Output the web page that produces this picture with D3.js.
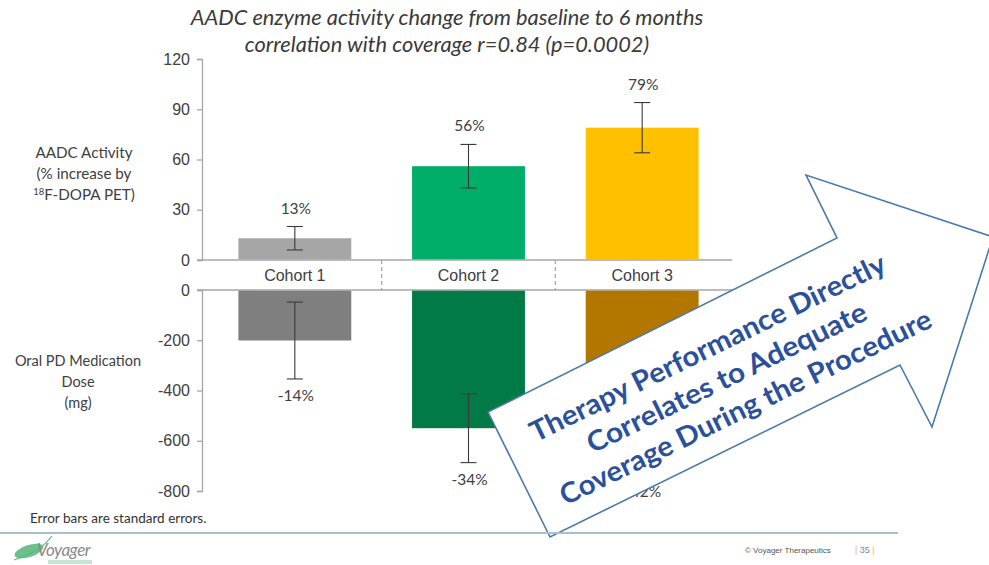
<!DOCTYPE html>
<html><head><meta charset="utf-8">
<script src="https://cdn.jsdelivr.net/npm/d3@7"></script>
<style>
html,body{margin:0;padding:0;background:#fff;}
svg{display:block;}
</style></head>
<body>
<svg id="chart" width="989" height="565"></svg>
<script>
// ---- data ----
const cohorts = ["Cohort 1", "Cohort 2", "Cohort 3"];
const aadcMean = [13, 56, 79];
const aadcSE = [7, 13, 15];
const aadcLabels = ["13%", "56%", "79%"];
const doseMean = [-201, -550, -600];
const doseSE = [153, 137, 136];
const doseLabels = ["-14%", "-34%", "-42%"];
const topTicks = [0, 30, 60, 90, 120];
const bottomTicks = [-800, -600, -400, -200, 0];
const topColors = ["#a6a6a6", "#00ad69", "#ffc000"];
const bottomColors = ["#7f7f7f", "#017a45", "#b37700"];
const titleLines = ["AADC enzyme activity change from baseline to 6 months",
                    "correlation with coverage r=0.84 (p=0.0002)"];
const arrowLines = ["Therapy Performance Directly", "Correlates to Adequate",
                    "Coverage During the Procedure"];

const svg = d3.select("#chart");
const axisX = 202;
const x = d3.scaleBand().domain(cohorts).range([208, 729]).paddingInner(0.35).paddingOuter(0.175);
const yTop = d3.scaleLinear().domain([0, 120]).range([260, 59]);
const yBot = d3.scaleLinear().domain([-800, 0]).range([491, 290]);
const txt = "#404040";

// title
svg.append("g").selectAll("text").data(titleLines).join("text")
  .attr("x", 447).attr("y", (d, i) => 25 + i * 27)
  .attr("text-anchor", "middle")
  .attr("font-family", "Lato, 'Open Sans', sans-serif")
  .attr("font-style", "italic").attr("font-size", 21.8).attr("fill", "#3a3a3a")
  .text(d => d);

// left labels
const la = svg.append("text").attr("font-family", "Lato, sans-serif").attr("font-size", 15.2)
  .attr("fill", txt).attr("text-anchor", "middle");
la.append("tspan").attr("x", 84).attr("y", 158).text("AADC Activity");
la.append("tspan").attr("x", 84).attr("y", 179).text("(% increase by");
const l3 = la.append("tspan").attr("x", 84).attr("y", 200);
l3.append("tspan").attr("font-size", 9.5).attr("dy", -5).text("18");
l3.append("tspan").attr("dy", 5).text("F-DOPA PET)");

const lb = svg.append("text").attr("font-family", "Lato, sans-serif").attr("font-size", 14.5)
  .attr("fill", txt).attr("text-anchor", "middle");
lb.append("tspan").attr("x", 78).attr("y", 366).text("Oral PD Medication");
lb.append("tspan").attr("x", 78).attr("y", 387).text("Dose");
lb.append("tspan").attr("x", 78).attr("y", 408).text("(mg)");

// axes
function styleAxis(g) {
  g.select(".domain").attr("stroke", "#a6a6a6").attr("stroke-width", 1.3);
  g.selectAll(".tick line").attr("stroke", "#a6a6a6").attr("stroke-width", 1.3);
  g.selectAll(".tick text").attr("fill", txt).attr("font-size", 16)
    .attr("font-family", "'Liberation Sans', Arial, sans-serif");
}
svg.append("g").attr("transform", `translate(${axisX},0)`)
  .call(d3.axisLeft(yTop).tickValues(topTicks).tickFormat(d => String(d))
    .tickSize(5).tickSizeOuter(5).tickPadding(7))
  .call(styleAxis);
svg.append("g").attr("transform", `translate(${axisX},0)`)
  .call(d3.axisLeft(yBot).tickValues(bottomTicks).tickFormat(d => String(d))
    .tickSize(5).tickSizeOuter(5).tickPadding(7))
  .call(styleAxis);

// category band
const bandRight = 732;
[yTop(0), yBot(0)].forEach(yy => {
  svg.append("line").attr("x1", axisX - 5).attr("x2", bandRight).attr("y1", yy).attr("y2", yy)
    .attr("stroke", "#a6a6a6").attr("stroke-width", 1.3);
});
const step = x.step();
const bandStart = x.range()[0];
svg.append("g").selectAll("line").data(cohorts.slice(1)).join("line")
  .attr("x1", (d, i) => bandStart + (i + 1) * step)
  .attr("x2", (d, i) => bandStart + (i + 1) * step)
  .attr("y1", yTop(0)).attr("y2", yBot(0))
  .attr("stroke", "#a6a6a6").attr("stroke-width", 1.2).attr("stroke-dasharray", "4,3");
svg.append("g").selectAll("text").data(cohorts).join("text")
  .attr("x", d => x(d) + x.bandwidth() / 2).attr("y", 281)
  .attr("text-anchor", "middle").attr("font-size", 16)
  .attr("font-family", "'Liberation Sans', Arial, sans-serif").attr("fill", txt)
  .text(d => d);

// top bars
svg.append("g").selectAll("rect").data(cohorts).join("rect")
  .attr("x", d => x(d)).attr("width", x.bandwidth())
  .attr("y", (d, i) => yTop(aadcMean[i])).attr("height", (d, i) => yTop(0) - yTop(aadcMean[i]) - 0.7)
  .attr("fill", (d, i) => topColors[i]);
// bottom bars
svg.append("g").selectAll("rect").data(cohorts).join("rect")
  .attr("x", d => x(d)).attr("width", x.bandwidth())
  .attr("y", yBot(0) + 0.7).attr("height", (d, i) => yBot(doseMean[i]) - yBot(0) - 0.7)
  .attr("fill", (d, i) => bottomColors[i]);

// error bars
function errBars(means, ses, y) {
  const g = svg.append("g").attr("stroke", "#3a3a3a").attr("stroke-width", 1.1);
  cohorts.forEach((c, i) => {
    const cx = x(c) + x.bandwidth() / 2;
    const y1 = y(means[i] + ses[i]), y2 = y(means[i] - ses[i]);
    g.append("line").attr("x1", cx).attr("x2", cx).attr("y1", y1).attr("y2", y2);
    g.append("line").attr("x1", cx - 8).attr("x2", cx + 8).attr("y1", y1).attr("y2", y1);
    g.append("line").attr("x1", cx - 8).attr("x2", cx + 8).attr("y1", y2).attr("y2", y2);
  });
}
errBars(aadcMean, aadcSE, yTop);
errBars(doseMean, doseSE, yBot);

// value labels
svg.append("g").selectAll("text").data(cohorts).join("text")
  .attr("x", d => x(d) + x.bandwidth() / 2 + 1)
  .attr("y", (d, i) => yTop(aadcMean[i] + aadcSE[i]) - 13)
  .attr("text-anchor", "middle").attr("font-family", "Lato, sans-serif").attr("font-size", 15.5)
  .attr("fill", txt).text((d, i) => aadcLabels[i]);
svg.append("g").selectAll("text").data(cohorts).join("text")
  .attr("x", d => x(d) + x.bandwidth() / 2 + 1)
  .attr("y", (d, i) => yBot(doseMean[i] - doseSE[i]) + 22)
  .attr("text-anchor", "middle").attr("font-family", "Lato, sans-serif").attr("font-size", 15.5)
  .attr("fill", txt).text((d, i) => doseLabels[i]);

// error bar note
svg.append("text").attr("x", 30).attr("y", 523).attr("font-family", "Lato, sans-serif")
  .attr("font-size", 13.5).attr("fill", "#333").text("Error bars are standard errors.");

// annotation arrow
const arrowPts = [[488, 412], [837, 238], [806, 175], [993, 237], [932, 427], [900, 365], [550, 537]];
svg.append("polygon").attr("points", arrowPts.map(p => p.join(",")).join(" "))
  .attr("fill", "#fff").attr("stroke", "#4a79aa").attr("stroke-width", 1.6)
  .attr("stroke-linejoin", "miter");
const arrowText = svg.append("g").attr("transform", "translate(735,372) rotate(-26)");
const lens = [392, 308, 410];
arrowText.selectAll("text").data(arrowLines).join("text")
  .attr("x", (d, i) => [-14, -10, -6][i]).attr("y", (d, i) => [-33, 2, 37][i] + 9)
  .attr("text-anchor", "middle").attr("font-family", "Lato, sans-serif")
  .attr("font-weight", "bold").attr("font-size", 28).attr("fill", "#2c519b")
  .attr("textLength", (d, i) => lens[i]).attr("lengthAdjust", "spacingAndGlyphs")
  .text(d => d);

// footer line
svg.append("line").attr("x1", 0).attr("x2", 898).attr("y1", 533).attr("y2", 533)
  .attr("stroke", "#a9bfd1").attr("stroke-width", 2);

// logo
const logo = svg.append("g");
logo.append("ellipse").attr("cx", 29).attr("cy", 551).attr("rx", 15).attr("ry", 6)
  .attr("transform", "rotate(-18,29,551)").attr("fill", "#6cc08c");
logo.append("path").attr("d", "M14,560 Q40,552 52,536").attr("fill", "none")
  .attr("stroke", "#5bb57f").attr("stroke-width", 1.2);
logo.append("text").attr("x", 37).attr("y", 556).attr("font-family", "Lato, sans-serif")
  .attr("font-style", "italic").attr("font-size", 17).attr("fill", "#8a8a8a")
  .attr("letter-spacing", -0.5).text("Voyager");
logo.append("rect").attr("x", 48).attr("y", 560).attr("width", 44).attr("height", 4).attr("fill", "#c7e6d2");

// footer text
svg.append("text").attr("x", 745).attr("y", 553).attr("font-family", "'Liberation Sans', Arial, sans-serif")
  .attr("font-size", 8).attr("fill", "#555").text("© Voyager Therapeutics");
const pg = svg.append("text").attr("x", 855).attr("y", 553)
  .attr("font-family", "'Liberation Sans', Arial, sans-serif").attr("font-size", 9);
pg.append("tspan").attr("fill", "#f2b33d").text("| ");
pg.append("tspan").attr("fill", "#888").text("35");
pg.append("tspan").attr("fill", "#f2b33d").text(" |");
</script>
</body></html>
